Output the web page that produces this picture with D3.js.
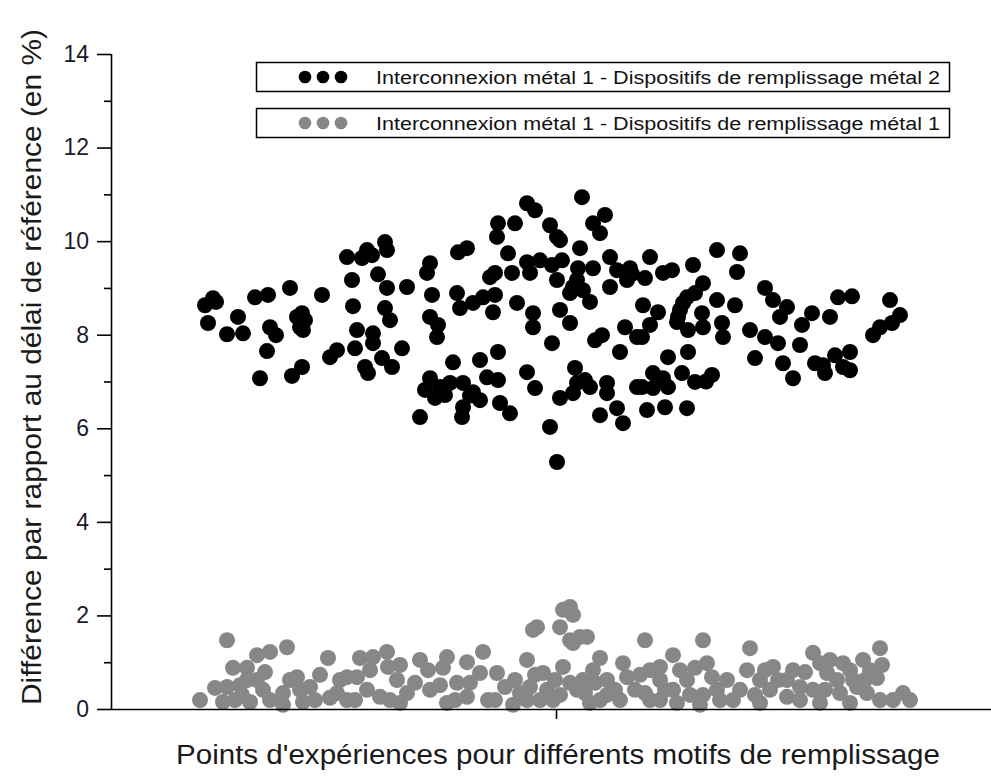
<!DOCTYPE html>
<html>
<head>
<meta charset="utf-8">
<script src="https://cdn.jsdelivr.net/npm/d3@7"></script>
<style>
  html, body { margin: 0; padding: 0; background: #fff; }
  svg { display: block; font-family: "Liberation Sans", Arial, sans-serif; }
</style>
</head>
<body>
<svg id="chart" width="991" height="778"></svg>
<script>
// ---- data ----
const yTicks = [0, 2, 4, 6, 8, 10, 12, 14];
const yMinorTicks = [1, 3, 5, 7, 9, 11, 13];
const xTicks = [45];
const seriesNames = [
  "Interconnexion métal 1 - Dispositifs de remplissage métal 2",
  "Interconnexion métal 1 - Dispositifs de remplissage métal 1"
];
const seriesColors = ["#000000", "#878787"];
const yLabel = "Différence par rapport au délai de référence (en %)";
const xLabel = "Points d'expériences pour différents motifs de remplissage";

// Interconnexion métal 1 - Dispositifs de remplissage métal 2  [index, %]
const metal2Points = [
  [9.9,8.63],[10.7,8.78],[10.2,8.25],[13.2,8.38],[12.1,8.01],[13.7,8.03],[14.9,8.80],[16.2,8.85],
  [18.4,9.00],[21.6,8.85],[16.4,8.16],[17.0,7.99],[16.1,7.65],[15.4,7.07],[18.6,7.12],[19.6,7.31],
  [19.1,8.38],[19.9,8.31],[19.4,8.16],[22.4,7.52],[23.1,7.67],[24.1,9.66],[26.1,9.81],[27.9,9.98],
  [28.1,9.81],[25.6,9.64],[24.6,9.17],[27.2,9.29],[28.1,9.00],[30.1,9.02],[24.7,8.61],[27.9,8.57],
  [28.4,8.31],[25.1,8.10],[26.7,8.03],[26.7,7.82],[24.9,7.71],[25.9,7.31],[26.2,7.18],[27.6,7.50],
  [28.6,7.31],[29.6,7.71],[32.4,9.53],[32.1,9.32],[35.2,9.76],[36.1,9.85],[32.6,8.85],[35.1,8.89],
  [35.4,8.57],[36.7,8.68],[37.7,8.80],[32.4,8.38],[33.2,8.21],[33.1,7.95],[34.7,7.41],[37.4,7.46],
  [32.4,7.07],[33.4,6.88],[32.9,6.65],[34.4,6.97],[35.7,6.97],[36.7,6.77],[37.4,6.60],[35.7,6.45],
  [35.6,6.24],[31.4,6.24],[38.4,9.23],[38.1,7.09],[47.6,10.94],[42.1,10.81],[42.9,10.66],[39.2,10.38],
  [40.9,10.38],[39.1,10.09],[44.4,10.34],[45.1,10.09],[45.4,10.02],[49.9,10.56],[48.7,10.38],[49.4,10.17],
  [47.4,9.85],[40.2,9.74],[42.1,9.55],[43.4,9.59],[44.6,9.49],[45.6,9.59],[42.4,9.32],[38.9,9.32],
  [40.6,9.32],[45.1,9.17],[47.2,9.42],[48.7,9.42],[50.4,9.66],[51.1,9.38],[52.4,9.42],[50.4,9.02],
  [52.1,9.17],[46.7,9.02],[46.4,8.89],[47.7,8.95],[48.4,8.70],[38.9,8.85],[38.7,8.48],[41.1,8.68],
  [42.7,8.46],[42.7,8.16],[45.4,8.53],[46.4,8.25],[48.9,7.88],[49.6,7.99],[44.6,7.82],[51.9,8.16],
  [53.1,7.95],[51.4,7.63],[39.2,7.63],[42.1,7.20],[42.9,6.86],[39.2,7.03],[39.4,6.54],[40.4,6.32],
  [46.9,7.29],[47.9,7.03],[48.4,6.88],[45.4,6.65],[46.7,6.75],[50.1,6.97],[50.1,6.75],[51.1,6.43],
  [49.4,6.28],[51.7,6.11],[44.4,6.03],[45.1,5.28],[53.1,6.88],[54.4,9.66],[53.9,9.21],[55.7,9.32],
  [56.6,9.38],[58.7,9.49],[61.1,9.81],[63.4,9.74],[63.1,9.34],[59.7,9.10],[58.1,8.80],[58.9,8.89],
  [61.1,8.74],[62.9,8.63],[65.9,9.00],[66.7,8.74],[53.7,8.63],[55.2,8.48],[57.4,8.53],[57.1,8.27],
  [59.6,8.46],[59.7,8.16],[58.2,8.10],[61.6,8.25],[61.7,7.95],[54.4,8.21],[53.6,7.95],[64.4,8.10],
  [65.9,7.95],[67.2,7.82],[67.4,8.38],[68.1,8.59],[56.2,7.52],[58.2,7.63],[64.9,7.50],[67.7,7.39],
  [54.7,7.18],[55.7,7.07],[53.6,6.88],[54.7,6.86],[56.2,6.88],[57.6,7.18],[58.9,6.99],[60.6,7.14],
  [54.1,6.39],[55.9,6.45],[58.1,6.43],[69.6,8.21],[70.6,8.46],[72.4,8.38],[73.2,8.80],[74.6,8.82],
  [69.4,7.78],[68.7,7.07],[70.9,7.39],[71.9,7.18],[72.9,7.56],[74.4,7.63],[74.4,7.24],[78.4,8.74],
  [79.4,8.42],[78.6,8.25],[77.4,8.16],[76.7,7.99],
  [33.9,6.71],[31.9,6.82],[47.1,9.17],[47.1,6.97],[57.7,8.68],[57.2,8.38],[71.7,7.35],[73.7,7.31],
  [19.6,8.46],[19.7,8.10],[11.0,8.70],[26.6,9.70],[36.4,6.70],[52.6,9.30],[60.0,7.00]
];

// Interconnexion métal 1 - Dispositifs de remplissage métal 1  [index, %]
const metal1Points = [
  [9.4,0.19],[12.1,1.47],[10.9,0.45],[12.1,0.47],[12.7,0.88],[14.1,0.88],[15.1,1.15],[16.4,1.22],
  [18.1,1.32],[14.1,0.62],[15.1,0.62],[15.7,0.41],[13.6,0.30],[11.7,0.15],[14.4,0.15],[17.7,0.34],
  [19.1,0.68],[19.4,0.41],[20.4,0.47],[19.7,0.15],[22.2,1.09],[23.1,0.34],[24.1,0.68],[25.4,1.09],
  [26.7,1.11],[28.1,1.22],[28.2,0.90],[25.1,0.68],[26.1,0.41],[27.4,0.26],[24.1,0.19],[22.4,0.24],
  [29.1,0.62],[30.1,0.34],[31.4,1.05],[32.2,0.83],[32.4,0.41],[34.1,1.11],[33.7,0.88],[35.1,0.56],
  [36.1,0.26],[34.1,0.13],[36.1,1.00],[37.7,1.22],[37.4,0.77],[39.1,0.77],[39.9,0.47],[38.2,0.19],
  [40.7,0.09],[42.1,1.05],[43.1,1.75],[42.7,1.69],[43.7,0.77],[42.4,0.47],[44.1,0.41],[44.7,0.19],
  [45.7,2.12],[46.4,2.18],[45.4,1.75],[46.4,1.47],[45.7,0.90],[46.4,0.56],[46.7,2.01],[47.4,1.54],
  [48.1,1.54],[46.7,1.41],[49.4,1.09],[48.7,0.83],[47.7,0.62],[47.1,0.41],[50.1,0.62],[50.1,0.30],
  [51.7,0.98],[52.1,0.68],[52.9,0.41],[53.9,1.47],[54.4,0.83],[55.4,0.90],[55.4,0.62],[56.7,1.15],
  [57.4,0.83],[56.7,0.41],[57.1,0.13],[58.1,0.62],[59.7,1.47],[60.1,0.98],[59.7,0.30],[61.1,0.41],
  [62.1,0.62],[62.7,0.19],[64.4,1.30],[64.1,0.83],[65.4,0.62],[66.7,0.90],[66.4,0.41],[68.1,0.62],
  [68.7,0.83],[69.4,0.47],[68.1,0.26],[70.7,1.20],[71.4,0.98],[72.1,0.77],[70.7,0.41],[73.7,0.98],
  [73.1,0.62],[74.7,0.62],[73.4,0.34],[75.7,1.05],[77.4,1.30],[77.6,0.94],[77.1,0.66],[76.1,0.34],
  [78.7,0.19],[79.7,0.34],[80.4,0.19],[75.1,0.47],
  [17.7,0.09],[29.4,0.13],[42.1,0.19],[48.4,0.13],[51.4,0.19],[54.4,0.19],[59.4,0.09],[65.4,0.13],
  [71.4,0.13],[74.4,0.13],
  [12.9,0.19],[13.4,0.51],[15.9,0.79],[16.4,0.19],[18.4,0.62],[20.9,0.19],[21.4,0.73],[23.4,0.62],
  [24.9,0.19],[26.4,0.83],[28.4,0.19],[29.4,0.94],[30.9,0.56],[33.4,0.51],[34.9,0.19],[36.4,0.56],
  [38.9,0.19],[40.9,0.62],[41.4,0.34],[42.9,0.73],[43.4,0.19],[44.9,0.62],[45.4,0.30],[47.9,0.34],
  [48.9,0.56],[49.4,0.19],[50.9,0.41],[53.4,0.73],[53.9,0.34],[55.4,0.19],[55.9,0.41],[58.4,0.30],
  [58.9,0.88],[60.6,0.68],[61.4,0.19],[63.4,0.41],[64.9,0.30],[65.9,0.83],[67.2,0.62],[69.9,0.79],
  [69.4,0.19],[71.9,0.41],[72.4,1.05],[74.4,0.83],[75.9,0.62],[76.4,0.83],[77.4,0.19]
];

// ---- chart ----
const svg = d3.select("#chart");
const x = d3.scaleLinear().domain([0.5, 88.5]).range([111, 991]);
const y = d3.scaleLinear().domain([0, 14]).range([709, 54]);
const R = 8;

// points
svg.append("g").selectAll("circle").data(metal1Points).join("circle")
  .attr("cx", d => x(d[0])).attr("cy", d => y(d[1])).attr("r", R)
  .attr("fill", seriesColors[1]);
svg.append("g").selectAll("circle").data(metal2Points).join("circle")
  .attr("cx", d => x(d[0])).attr("cy", d => y(d[1])).attr("r", R)
  .attr("fill", seriesColors[0]);

// y axis
const yAxis = svg.append("g").attr("transform", `translate(${x.range()[0]},0)`)
  .call(d3.axisLeft(y).tickValues(yTicks).tickSize(14).tickPadding(8).tickFormat(d3.format("d")));
const yMinor = svg.append("g").attr("transform", `translate(${x.range()[0]},0)`)
  .call(d3.axisLeft(y).tickValues(yMinorTicks).tickSize(7).tickFormat(""));
yMinor.select(".domain").remove();
[yAxis, yMinor].forEach(g => {
  g.selectAll("line").attr("stroke", "#000").attr("stroke-width", 1.6);
  g.selectAll(".domain").attr("stroke", "#000").attr("stroke-width", 1.6);
});
yAxis.select(".domain").attr("d", `M0.5,${y(0)}V${y(14)}`);
yAxis.selectAll("text").attr("font-size", 23).attr("fill", "#1a1a2a")
  .attr("font-family", "Liberation Sans, Arial, sans-serif");

// x axis
const xAxis = svg.append("g").attr("transform", `translate(0,${y(0)})`)
  .call(d3.axisBottom(x).tickValues(xTicks).tickSize(10).tickFormat(""));
xAxis.selectAll("line").attr("stroke", "#000").attr("stroke-width", 1.6);
xAxis.select(".domain").attr("stroke", "#000").attr("stroke-width", 1.6)
  .attr("d", `M${x.range()[0]},0.5H${x.range()[1]}`);

// axis titles
svg.append("text")
  .attr("transform", `translate(41,${367}) rotate(-90)`)
  .attr("text-anchor", "middle")
  .attr("font-size", 27).attr("fill", "#1a1a1a")
  .attr("textLength", 676).attr("lengthAdjust", "spacingAndGlyphs")
  .text(yLabel);
svg.append("text")
  .attr("x", 558).attr("y", 764)
  .attr("text-anchor", "middle")
  .attr("font-size", 27).attr("fill", "#1a1a1a")
  .attr("textLength", 764).attr("lengthAdjust", "spacingAndGlyphs")
  .text(xLabel);

// legend
const legendTops = [62, 108];
const legend = svg.append("g");
seriesNames.forEach((name, i) => {
  const top = legendTops[i];
  legend.append("rect")
    .attr("x", 256.5).attr("y", top + 0.5).attr("width", 693).attr("height", 29)
    .attr("fill", "#fff").attr("stroke", "#000").attr("stroke-width", 1.5);
  [305, 323, 341].forEach(cx => {
    legend.append("circle").attr("cx", cx).attr("cy", top + 15).attr("r", 6.3)
      .attr("fill", seriesColors[i]);
  });
  legend.append("text")
    .attr("x", 376).attr("y", top + 22)
    .attr("font-size", 18).attr("fill", "#111")
    .attr("textLength", 564).attr("lengthAdjust", "spacingAndGlyphs")
    .text(name);
});
</script>
</body>
</html>
